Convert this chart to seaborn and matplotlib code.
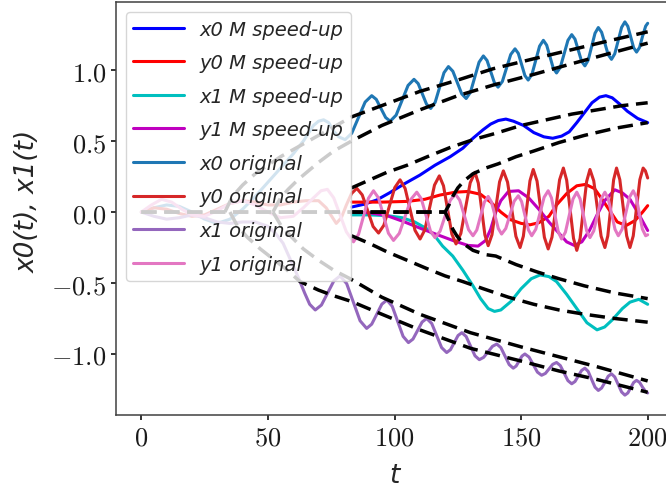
import matplotlib
matplotlib.use("Agg")
import matplotlib.pyplot as plt
import pandas as pd
import seaborn as sns

# ---------------- data ----------------
x_ticks = [0, 50, 100, 150, 200]
x_tick_labels = ["0", "50", "100", "150", "200"]
y_ticks = [-1.0, -0.5, 0.0, 0.5, 1.0]
y_tick_labels = ["-1.0", "-0.5", "0.0", "0.5", "1.0"]

labels = ["x0 M speed-up", "y0 M speed-up", "x1 M speed-up", "y1 M speed-up",
          "x0 original", "y0 original", "x1 original", "y1 original"]
colors = ["#0000ff", "#ff0000", "#00bfbf", "#bf00bf", "#1f77b4", "#d62728", "#9467bd", "#e377c2"]

x0_speedup = [(83, 0.035), (88, 0.055), (93, 0.085), (98, 0.135), (104, 0.2), (110, 0.26),
              (116, 0.33), (122, 0.39), (127, 0.45), (131, 0.52), (135, 0.58), (138, 0.62),
              (141, 0.645), (144, 0.655), (147, 0.64), (151, 0.61), (155, 0.56), (159, 0.53),
              (162.5, 0.52), (166, 0.535), (169, 0.565), (172, 0.63), (175, 0.7), (178, 0.77),
              (181, 0.81), (183.5, 0.82), (186, 0.805), (189, 0.76), (192, 0.71), (196, 0.66),
              (200, 0.63)]
y0_speedup = [(83, 0.07), (95, 0.07), (105, 0.075), (112, 0.09), (118, 0.12), (124, 0.14),
              (129, 0.145), (134, 0.125), (138, 0.07), (142, 0.0), (146, -0.055), (150, -0.08),
              (153.5, -0.09), (157, -0.075), (161, -0.03), (164, 0.05), (168, 0.13), (172, 0.185),
              (175.5, 0.195), (179, 0.165), (182, 0.09), (185, 0.01), (188, -0.07), (191.5, -0.095),
              (195, -0.06), (198, 0.0), (200, 0.045)]
x1_speedup = [(83, -0.02), (90, -0.02), (97, -0.025), (103, -0.04), (108, -0.07), (113, -0.12),
              (116, -0.17), (119, -0.24), (123, -0.31), (127, -0.41), (131, -0.52), (134, -0.61),
              (137, -0.68), (139.5, -0.70), (142, -0.69), (146, -0.63), (150, -0.54), (154, -0.47),
              (157.5, -0.443), (161, -0.455), (164, -0.49), (168, -0.58), (172, -0.68), (176, -0.78),
              (180, -0.83), (183, -0.81), (186, -0.76), (190, -0.68), (193, -0.635), (196.5, -0.615),
              (200, -0.65)]
y1_speedup = [(83, 0.0), (90, -0.005), (97, -0.025), (104, -0.07), (111, -0.12), (117, -0.16),
              (123, -0.2), (129, -0.235), (133, -0.24), (136, -0.2), (138, -0.12), (140, 0.0),
              (142, 0.08), (145, 0.145), (149, 0.15), (153, 0.1), (157, 0.02), (161, -0.07),
              (165, -0.15), (168, -0.21), (171, -0.235), (174, -0.21), (177, -0.13), (180, -0.02),
              (183, 0.08), (187, 0.157), (190, 0.135), (193, 0.09), (196, 0.0), (200, -0.13)]

x0_original = [(0, 0), (5, 0.03), (10, 0.05), (15, 0.04), (20, 0.0), (25, -0.05), (30, -0.08),
               (35, -0.05), (40, 0.02), (45, 0.11), (50, 0.21), (55, 0.31), (60, 0.41), (64, 0.50),
               (68, 0.61), (70, 0.64), (72, 0.65), (74, 0.63), (76, 0.57), (78, 0.53), (80.5, 0.51),
               (83.1, 0.555), (85.75, 0.665), (88.4, 0.775), (91, 0.82), (92.8, 0.794), (94.65, 0.73),
               (96.5, 0.666), (98.3, 0.64), (100.65, 0.683), (103, 0.7875), (105.35, 0.892),
               (107.7, 0.935), (109.35, 0.905), (111, 0.8325), (112.65, 0.76), (114.3, 0.73),
               (116.05, 0.773), (117.8, 0.8775), (119.55, 0.982), (121.3, 1.025), (123.05, 0.992),
               (124.8, 0.9125), (126.55, 0.833), (128.3, 0.80), (130, 0.844), (131.7, 0.95),
               (133.4, 1.056), (135.1, 1.10), (136.55, 1.068), (138, 0.99), (139.45, 0.912),
               (140.9, 0.88), (142.6, 0.92), (144.25, 1.015), (145.9, 1.11), (147.6, 1.15),
               (148.9, 1.118), (150.2, 1.04), (151.5, 0.962), (152.8, 0.93), (154.3, 0.971),
               (155.8, 1.07), (157.3, 1.169), (158.8, 1.21), (160.1, 1.176), (161.4, 1.095),
               (162.7, 1.014), (164, 0.98), (165.5, 1.02), (167, 1.115), (168.5, 1.21), (170, 1.25),
               (171.3, 1.218), (172.6, 1.14), (173.9, 1.062), (175.2, 1.03), (176.5, 1.07),
               (177.85, 1.165), (179.2, 1.26), (180.5, 1.30), (181.8, 1.267), (183.1, 1.188),
               (184.4, 1.109), (185.7, 1.076), (187, 1.115), (188.35, 1.208), (189.7, 1.301),
               (191, 1.34), (192.15, 1.309), (193.3, 1.234), (194.45, 1.158), (195.6, 1.127),
               (196.8, 1.16), (198, 1.24), (199.2, 1.31), (200, 1.33)]
y0_original = [(0, 0), (5, 0.03), (10, 0.02), (15, -0.01), (20, -0.03), (25, -0.02), (30, 0.02),
               (35, 0.06), (40, 0.08), (45, 0.07), (50, 0.05), (55, 0.05), (60, 0.07), (65, 0.08),
               (70, 0.08), (73, 0.03), (77, -0.08), (79, -0.04), (81, 0.05), (83, 0.13),
               (85.1, 0.167), (87.25, 0.121), (89.4, 0.01), (91.55, -0.102), (93.7, -0.148),
               (95.8, -0.093), (97.95, 0.04), (100.1, 0.172), (102.2, 0.227), (104.2, 0.166),
               (106.15, 0.019), (108.1, -0.129), (110.1, -0.19), (112, -0.125), (113.9, 0.033),
               (115.8, 0.19), (117.7, 0.255), (119.35, 0.185), (121, 0.015), (122.65, -0.155),
               (124.3, -0.225), (126.2, -0.151), (128.05, 0.028), (129.9, 0.206), (131.8, 0.28),
               (133.1, 0.204), (134.4, 0.022), (135.7, -0.161), (137, -0.237), (138.5, -0.16),
               (140, 0.027), (141.5, 0.213), (143, 0.29), (144.65, 0.211), (146.3, 0.02),
               (147.95, -0.171), (149.6, -0.25), (150.9, -0.17), (152.2, 0.025), (153.5, 0.22),
               (154.8, 0.30), (156.3, 0.218), (157.75, 0.02), (159.2, -0.178), (160.7, -0.26),
               (162.2, -0.177), (163.7, 0.025), (165.2, 0.227), (166.7, 0.31), (168, 0.225),
               (169.35, 0.02), (170.7, -0.185), (172, -0.27), (173.3, -0.187), (174.6, 0.015),
               (175.9, 0.217), (177.2, 0.30), (178.7, 0.22), (180.15, 0.025), (181.6, -0.17),
               (183.1, -0.25), (184.25, -0.168), (185.4, 0.03), (186.55, 0.228), (187.7, 0.31),
               (189, 0.228), (190.35, 0.03), (191.7, -0.168), (193, -0.25), (194.3, -0.168),
               (195.6, 0.03), (196.9, 0.228), (198.2, 0.31), (199.1, 0.29), (200, 0.24)]
x1_original = [(0, 0), (5, -0.03), (10, -0.05), (15, -0.04), (20, -0.02), (25, -0.04), (30, -0.07),
               (35, -0.08), (40, -0.07), (45, -0.07), (50, -0.1), (53, -0.15), (56, -0.22),
               (59, -0.34), (62, -0.46), (64.5, -0.57), (66.5, -0.65), (68.7, -0.69),
               (71.15, -0.655), (73.6, -0.57), (76.05, -0.485), (78.5, -0.45), (81.1, -0.504),
               (83.75, -0.635), (86.4, -0.766), (89, -0.82), (91, -0.79), (93, -0.72), (95, -0.649),
               (97, -0.62), (99.1, -0.664), (101.25, -0.77), (103.4, -0.876), (105.5, -0.92),
               (107.3, -0.895), (109.1, -0.835), (110.9, -0.775), (112.7, -0.75), (114.7, -0.785),
               (116.65, -0.87), (118.6, -0.955), (120.6, -0.99), (122.1, -0.97), (123.6, -0.92),
               (125.1, -0.87), (126.6, -0.85), (128.3, -0.877), (130.05, -0.945), (131.8, -1.013),
               (133.5, -1.04), (135.2, -1.024), (136.95, -0.985), (138.7, -0.946), (140.4, -0.93),
               (142, -0.955), (143.65, -1.015), (145.3, -1.075), (146.9, -1.10), (148.05, -1.085),
               (149.2, -1.05), (150.35, -1.015), (151.5, -1.0), (153.15, -1.022), (154.8, -1.075),
               (156.45, -1.128), (158.1, -1.15), (159.6, -1.137), (161.05, -1.105), (162.5, -1.073),
               (164, -1.06), (165.5, -1.082), (167, -1.135), (168.5, -1.188), (170, -1.21),
               (171.3, -1.194), (172.6, -1.155), (173.9, -1.116), (175.2, -1.10), (176.5, -1.123),
               (177.85, -1.179), (179.2, -1.234), (180.5, -1.257), (181.8, -1.24), (183.1, -1.2),
               (184.4, -1.157), (185.7, -1.14), (187, -1.162), (188.35, -1.215), (189.7, -1.268),
               (191, -1.29), (192.15, -1.275), (193.3, -1.238), (194.45, -1.201), (195.6, -1.186),
               (196.8, -1.2), (198, -1.235), (199.2, -1.265), (200, -1.275)]
y1_original = [(0, 0), (4, 0.05), (8, 0.09), (12, 0.07), (16, 0.02), (20, -0.02), (25, -0.03),
               (30, 0.01), (35, 0.06), (40, 0.08), (45, 0.05), (50, 0.0), (55, -0.04), (60, -0.03),
               (64, 0.03), (68, 0.1), (71, 0.15), (73.5, 0.16), (76, 0.1), (78.5, -0.02), (81, -0.14),
               (83.8, -0.21), (85.8, -0.157), (87.75, -0.03), (89.7, 0.097), (91.7, 0.15),
               (93.7, 0.099), (95.65, -0.025), (97.6, -0.149), (99.6, -0.2), (101.9, -0.15),
               (104.2, -0.03), (106.5, 0.09), (108.8, 0.14), (110.6, 0.093), (112.4, -0.02),
               (114.2, -0.133), (116, -0.18), (118, -0.135), (120, -0.027), (122, 0.082),
               (124, 0.127), (125.75, 0.084), (127.5, -0.02), (129.25, -0.124), (131, -0.167),
               (132.5, -0.127), (134, -0.028), (135.5, 0.07), (137, 0.11), (138.3, 0.071),
               (139.65, -0.022), (141, -0.116), (142.3, -0.155), (143.95, -0.116), (145.6, -0.02),
               (147.25, 0.076), (148.9, 0.115), (150.2, 0.074), (151.55, -0.026), (152.9, -0.126),
               (154.2, -0.167), (155.8, -0.121), (157.45, -0.008), (159.1, 0.104), (160.7, 0.15),
               (162, 0.1), (163.35, -0.02), (164.7, -0.14), (166, -0.19), (167.5, -0.142),
               (169, -0.025), (170.5, 0.092), (172, 0.14), (173.3, 0.093), (174.6, -0.02),
               (175.9, -0.133), (177.2, -0.18), (178.7, -0.133), (180.15, -0.02), (181.6, 0.093),
               (183.1, 0.14), (184.4, 0.095), (185.75, -0.013), (187.1, -0.122), (188.4, -0.167),
               (189.9, -0.121), (191.35, -0.008), (192.8, 0.104), (194.3, 0.15), (195.5, 0.104),
               (196.7, -0.01), (197.9, -0.12), (199.2, -0.167), (200, -0.16)]

# dashed envelope curves
env_orig_upper_outer = [(33, 0), (36, 0.11), (40, 0.19), (45, 0.27), (50, 0.33), (55, 0.39),
                        (60, 0.44), (65, 0.49), (70, 0.54), (76, 0.60), (83, 0.67), (95, 0.75),
                        (110, 0.85), (125, 0.93), (139, 1.01), (155, 1.08), (170, 1.144),
                        (185, 1.208), (200, 1.27)]
env_orig_upper_inner = [(52, 0), (55, 0.1), (58, 0.16), (62, 0.23), (66, 0.29), (70, 0.35),
                        (76, 0.43), (83, 0.50), (95, 0.61), (110, 0.72), (125, 0.82), (139, 0.895),
                        (155, 0.97), (170, 1.045), (185, 1.118), (200, 1.19)]
env_orig_lower_outer = [(35, 0), (38, -0.1), (42, -0.18), (47, -0.26), (52, -0.33), (57, -0.4),
                        (62.7, -0.49), (70, -0.55), (76, -0.59), (83, -0.63), (95, -0.72),
                        (110, -0.83), (130, -0.96), (150, -1.05), (165, -1.12), (180, -1.18),
                        (200, -1.27)]
env_orig_lower_inner = [(52, 0), (55, -0.09), (59, -0.17), (64, -0.26), (70, -0.34), (76, -0.41),
                        (82.5, -0.47), (95, -0.6), (110, -0.72), (130, -0.85), (150, -0.95),
                        (165, -1.02), (180, -1.09), (200, -1.19)]
env_fast_upper_outer = [(83, 0.17), (90, 0.225), (97, 0.28), (105, 0.33), (113, 0.39), (122, 0.455),
                        (131, 0.51), (140, 0.555), (150, 0.61), (160, 0.65), (170, 0.69),
                        (180, 0.72), (190, 0.75), (200, 0.77)]
env_fast_upper_inner = [(0, 0), (40, 0), (83, 0), (100, 0), (120, 0), (121.5, 0.05), (123, 0.11),
                        (125, 0.17), (127.5, 0.22), (131, 0.27), (136, 0.31), (141, 0.34),
                        (148, 0.39), (155, 0.43), (165, 0.49), (175, 0.54), (187, 0.59), (200, 0.63)]
env_fast_lower_outer = [(83, -0.167), (90, -0.22), (97, -0.28), (105, -0.34), (113, -0.40),
                        (120, -0.45), (127, -0.49), (135, -0.54), (145, -0.60), (155, -0.65),
                        (165, -0.69), (175, -0.72), (187, -0.75), (200, -0.776)]
env_fast_lower_inner = [(0, 0), (40, 0), (83, 0), (100, 0), (120, 0), (121.5, -0.06), (123, -0.12),
                        (124.6, -0.167), (127, -0.22), (131, -0.27), (136, -0.30), (140, -0.31),
                        (148, -0.37), (156, -0.42), (165, -0.47), (175, -0.52), (187, -0.57),
                        (200, -0.61)]

series = [x0_speedup, y0_speedup, x1_speedup, y1_speedup,
          x0_original, y0_original, x1_original, y1_original]
envelopes = [env_orig_upper_outer, env_orig_upper_inner, env_orig_lower_outer,
             env_orig_lower_inner, env_fast_upper_outer, env_fast_upper_inner,
             env_fast_lower_outer, env_fast_lower_inner]

# ---------------- drawing ----------------
sns.set_theme(style="ticks", color_codes=False, rc={
    "axes.edgecolor": "0.25",
    "axes.linewidth": 1.1,
    "xtick.major.size": 3.5,
    "ytick.major.size": 3.5,
    "xtick.color": "0.1",
    "ytick.color": "0.1",
    "mathtext.fontset": "cm",
})
plt.rcParams["font.family"] = ["DejaVu Sans"]

fig = plt.figure(figsize=(6.66, 4.89), dpi=100)
ax = fig.add_axes([116 / 666, (489 - 416) / 489, (673 - 116) / 666, (416 - 3) / 489])


def draw(pts, **kw):
    df = pd.DataFrame(pts, columns=["t", "v"])
    sns.lineplot(data=df, x="t", y="v", ax=ax, errorbar=None, sort=True, **kw)


for pts, lab, col in zip(series, labels, colors):
    draw(pts, color=col, label=lab, linewidth=2.2)

for pts in envelopes:
    draw(pts, color="k", linewidth=2.5, linestyle=(0, (4.4, 2.2)), zorder=3, legend=False)

ax.set_xlim(-10, 210)
ax.set_ylim(-1.43, 1.48)
ax.set_xticks(x_ticks)
ax.set_xticklabels([f"${s}$" for s in x_tick_labels], fontsize=19)
ax.set_yticks(y_ticks)
ax.set_yticklabels([f"${s}$" for s in y_tick_labels], fontsize=19)

ax.set_xlabel("t", fontstyle="italic", fontsize=19)
ax.set_ylabel("x0(t), x1(t)", fontstyle="italic", fontsize=19)
ax.xaxis.set_label_coords(0.5, -0.113)
ax.yaxis.set_label_coords(-0.135, 0.52)

leg = ax.legend(loc="upper left", prop={"style": "italic", "size": 14},
                handlelength=2.6, labelspacing=0.75, framealpha=0.8, borderaxespad=0.5)

fig.savefig("out.png", dpi=100)
